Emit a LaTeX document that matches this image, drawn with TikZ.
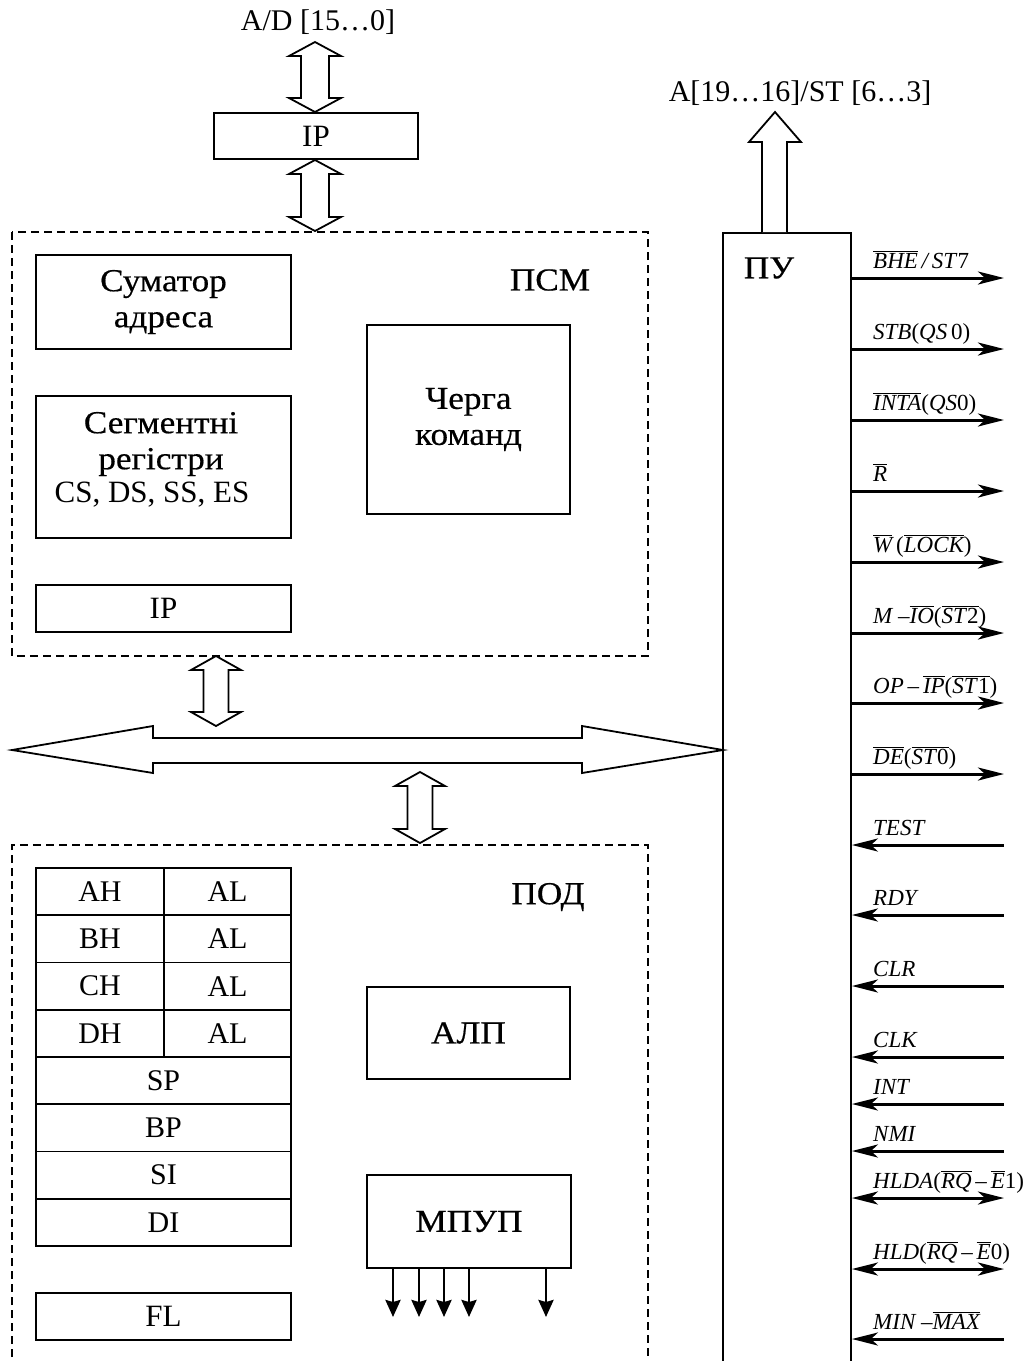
\documentclass[tikz,border=0pt]{standalone}
\usepackage{fontspec}
\setmainfont{Liberation Serif}
\newfontfamily\cyr[FakeStretch=1.1,FakeBold=0.5]{Liberation Serif}
\usetikzlibrary{arrows.meta}
\newcommand\ovl[1]{$\overline{\hbox{#1}}$}
\newcommand\up[1]{\textup{#1}}
\newcommand\vdarrow[5]{% cx, ytop, ybot, shaft half, head half; head length 14
  \draw[hollow] (#1,#2) -- (#1+#5,#2+14) -- (#1+#4,#2+14) -- (#1+#4,#3-14) -- (#1+#5,#3-14) -- (#1,#3)
   -- (#1-#5,#3-14) -- (#1-#4,#3-14) -- (#1-#4,#2+14) -- (#1-#5,#2+14) -- cycle;}
\begin{document}
\begin{tikzpicture}[x=1pt,y=-1pt,
  box/.style={draw, line width=1.8pt, inner sep=0pt, align=center},
  dbox/.style={draw, line width=1.5pt, dash pattern=on 8pt off 5pt},
  hollow/.style={draw, line width=1.8pt, fill=white, line join=miter},
  big/.style={font=\cyr\fontsize{32}{36}\selectfont, align=center},
  mid/.style={font=\fontsize{31}{36}\selectfont},
  sigl/.style={font=\fontsize{23}{26}\selectfont\itshape, anchor=base west, inner sep=0pt},
  sigline/.style={line width=3pt},
  tip/.tip={Stealth[length=26pt,width=13pt,inset=7pt]},
  outarr/.style={sigline, -tip},
  inarr/.style={sigline, tip-},
  bothar/.style={sigline, tip-tip},
  cell/.style={box, minimum height=47.25pt, font=\fontsize{30}{34}\selectfont},
  dnarr/.style={line width=2.8pt, -{Stealth[length=17pt,width=15pt,inset=2pt]}}
]
\useasboundingbox (0,0) rectangle (1027,1361);
\clip (0,0) rectangle (1027,1361);

% top: external bus
\node[mid, font=\fontsize{30}{34}\selectfont] (adlab) at (318,22) {A/D [15…0]};
\node[box, minimum width=204pt, minimum height=46pt, mid] (ipext) at (316,136) {IP};
\vdarrow{315}{42}{112}{14}{26}
\vdarrow{315}{160}{231}{14}{26}

% PSM dashed block
\draw[dbox] (12,232) rectangle (648,656);
\node[big] (psm) at (550,280) {ПСМ};
\node[box, minimum width=255pt, minimum height=94pt, big] (sum) at (163.5,302) {Суматор\\адреса};
\node[box, minimum width=255pt, minimum height=142pt] (seg) at (163.5,467) {};
\node[big] (segt) at (161,444) {Сегментні\\регістри};
\node[mid] (segr) at (152,495) {CS, DS, SS, ES};
\node[box, minimum width=255pt, minimum height=47pt, mid] (ipin) at (163.5,608.5) {IP};
\node[box, minimum width=203pt, minimum height=189pt, big] (queue) at (468.5,419.5) {Черга\\команд};

% internal bus
\vdarrow{216}{656}{726}{12.5}{25}
\draw[hollow] (12,750) -- (153,726) -- (153,738) -- (582,738) -- (582,726) -- (723,750)
  -- (582,773) -- (582,763) -- (153,763) -- (153,773) -- cycle;
\vdarrow{420}{772}{843}{12.5}{25}

% POD dashed block
\draw[dbox] (12,1370) -- (12,845) -- (648,845) -- (648,1370);
\node[big] (pod) at (548,897) {ПОД};
\foreach \r/\h/\l [count=\i] in {0/AH/AL,1/BH/AL,2/CH/AL,3/DH/AL}{
  \node[cell, minimum width=128pt] (h\i) at (100,891.6+47.25*\r) {\h};
  \node[cell, minimum width=127pt] (l\i) at (227.5,891.6+47.25*\r) {\l};
}
\foreach \r/\t in {4/SP,5/BP,6/SI,7/DI}{
  \node[cell, minimum width=255pt] (r\t) at (163.5,891.6+47.25*\r) {\t};
}
\node[box, minimum width=255pt, minimum height=47pt, mid] (fl) at (163.5,1316.5) {FL};
\node[box, minimum width=203pt, minimum height=92pt, big] (alu) at (468.5,1033) {АЛП};
\node[box, minimum width=204pt, minimum height=93pt, big] (mpup) at (469,1221.5) {МПУП};
\foreach \x [count=\i] in {393,419,444,469,546}{
  \coordinate (m\i) at (\x,1317);
  \draw[dnarr] (m\i |- mpup.south) -- (m\i);
}

% PU block
\node[draw, line width=1.8pt, minimum width=128pt, minimum height=1140pt, inner sep=0pt, anchor=north] (pu) at (787,232) {};
\node[big] (pul) at (769,268) {ПУ};
\draw[hollow] (762,232) -- (762,142) -- (749,142) -- (775,112) -- (801,142) -- (787,142) -- (787,232);
\node[mid, font=\fontsize{30}{34}\selectfont] (alab) at (800,93) {A[19…16]/ST [6…3]};

% signals
\foreach \y/\lab/\st [count=\i] in {
  278/{\ovl{BHE}\,/\,ST\up{7}}/outarr,
  349/{STB\up{(}QS\,\up{0)}}/outarr,
  420/{\ovl{INTA}\up{(}QS\up{0)}}/outarr,
  491/{\ovl{R}}/outarr,
  562/{\ovl{W}\,\up{(}\ovl{LOCK}\up{)}}/outarr,
  633/{M –\ovl{IO}\up{(}\ovl{ST\up{2}}\up{)}}/outarr,
  703/{OP\,–\,\ovl{IP}\up{(}\ovl{ST\up{1}}\up{)}}/outarr,
  774/{\ovl{DE}\up{(}\ovl{ST\up{0}}\up{)}}/outarr,
  845/{TEST}/inarr,
  915/{RDY}/inarr,
  986/{CLR}/inarr,
  1057/{CLK}/inarr,
  1104/{INT}/inarr,
  1151/{NMI}/inarr,
  1198/{HLDA\up{(}\ovl{RQ}\,–\,\ovl{E}\up{1)}}/bothar,
  1269/{HLD\up{(}\ovl{RQ}\,–\,\ovl{E}\up{0)}}/bothar,
  1339/{MIN –\ovl{MAX}}/inarr}{
  \coordinate (s\i) at (1004,\y);
  \draw[\st] (s\i -| pu.east) -- (s\i);
  \node[sigl] (sl\i) at (873,\y-10) {\lab};
}
\end{tikzpicture}
\end{document}
